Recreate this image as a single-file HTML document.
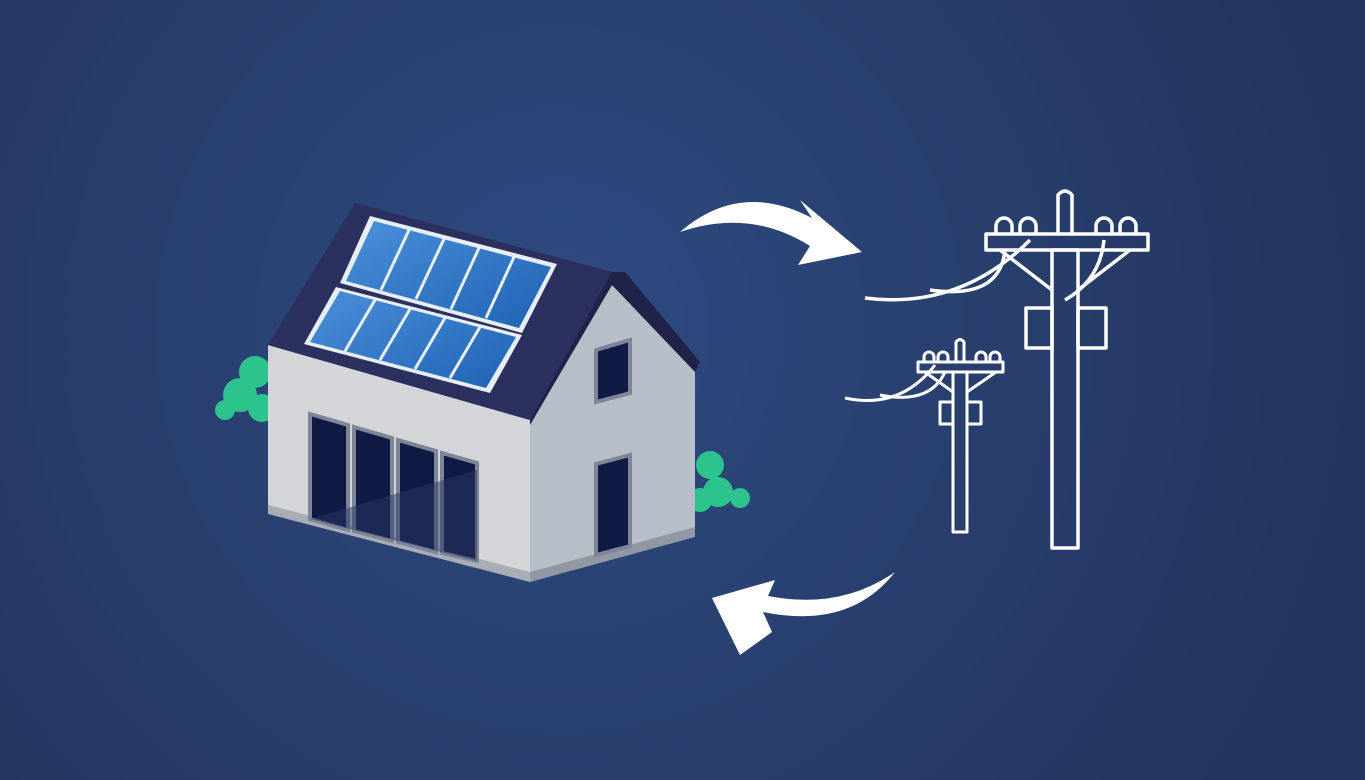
<!DOCTYPE html>
<html><head><meta charset="utf-8"><style>
html,body{margin:0;padding:0;width:1365px;height:780px;overflow:hidden;background:#253862}
</style></head><body>
<svg width="1365" height="780" viewBox="0 0 1365 780" xmlns="http://www.w3.org/2000/svg">
<defs>
<radialGradient id="bg" cx="560" cy="330" r="800" gradientUnits="userSpaceOnUse">
<stop offset="0" stop-color="#2f4b82"/><stop offset="0.6" stop-color="#273d6b"/><stop offset="1" stop-color="#22355d"/>
</radialGradient>
<linearGradient id="pv" x1="0" y1="0" x2="1" y2="1">
<stop offset="0" stop-color="#4a90d8"/><stop offset="1" stop-color="#1f63b5"/>
</linearGradient>
</defs>
<rect width="1365" height="780" fill="url(#bg)"/>
<!-- bushes -->
<g fill="#2cc48c">
<circle cx="255" cy="372" r="16"/><circle cx="240" cy="395" r="17"/><circle cx="225" cy="410" r="10"/><circle cx="262" cy="408" r="14"/>
<circle cx="710" cy="465" r="14"/><circle cx="718" cy="492" r="15"/><circle cx="740" cy="498" r="10"/><circle cx="700" cy="500" r="12"/>
</g>
<!-- house walls -->
<polygon points="268,345 530,420 530,580 268,512" fill="#d3d5d8"/>
<polygon points="268,505 530,572 530,582 268,514" fill="#a9aeb6"/>
<polygon points="530,420 612,285 695,370 695,535 530,580" fill="#b7bec8"/>
<polygon points="530,572 695,527 695,537 530,582" fill="#9198a3"/>
<!-- front windows -->
<g fill="#0f1a45" stroke="#7d8596" stroke-width="4">
<polygon points="310,414 348,425 348,530 310,519"/>
<polygon points="354,427 392,438 392,541 354,531"/>
<polygon points="398,440 436,451 436,552 398,542"/>
<polygon points="442,453 477,463 477,561 442,553"/>
<polygon points="596,350 630,340 630,393 596,402" fill="#0f1a45"/>
<polygon points="596,464 630,455 630,546 596,555"/>
</g>
<polygon points="310,519 477,470 477,561 310,519" fill="#2a3866" opacity="0.5"/>
<!-- roof -->
<polygon points="355,203 612,272 530,420 268,345" fill="#2b305e"/>
<polygon points="612,272 625,272 700,362 695,372 612,285 530,425 530,420" fill="#1f2349"/>
<!-- solar panels -->
<polygon points="370,216 557,264 522,333 340,283" fill="#e8eef6"/>
<polygon points="374,221 551,267 519,328 346,281" fill="url(#pv)"/>
<polygon points="336,287 522,335 490,393 304,344" fill="#e8eef6"/>
<polygon points="340,291 516,337 486,388 310,342" fill="url(#pv)"/>
<g stroke="#e8eef6" stroke-width="3">
<line x1="409" y1="230" x2="381" y2="290"/><line x1="444" y1="239" x2="416" y2="299"/><line x1="479" y1="248" x2="451" y2="309"/><line x1="514" y1="257" x2="486" y2="318"/>
<line x1="375" y1="300" x2="345" y2="351"/><line x1="410" y1="309" x2="380" y2="360"/><line x1="445" y1="318" x2="415" y2="369"/><line x1="480" y1="327" x2="450" y2="378"/>
</g>
<!-- arrows -->
<path d="M680,232 Q740,180 812,218 L800,200 L862,252 L798,265 L810,246 Q750,208 680,232 Z" fill="#fff"/>
<path d="M895,572 Q850,630 763,612 L772,632 L740,655 L712,598 L775,580 L768,596 Q840,610 895,572 Z" fill="#fff"/>
<!-- big pole -->
<g fill="none" stroke="#fff" stroke-width="3.5" stroke-linejoin="round">
<rect x="1052" y="250" width="26" height="298"/>
<rect x="986" y="234" width="162" height="16"/>
<path d="M1058,234 V195 Q1065,187 1072,195 V234"/>
<path d="M996,234 v-8 a8,8 0 0 1 16,0 v8 M1020,234 v-8 a8,8 0 0 1 16,0 v8 M1096,234 v-8 a8,8 0 0 1 16,0 v8 M1120,234 v-8 a8,8 0 0 1 16,0 v8"/>
<path d="M1000,250 L1052,290 M1130,250 L1078,290"/>
<rect x="1026" y="308" width="26" height="40"/><rect x="1078" y="308" width="28" height="40"/>
<path d="M865,298 Q960,310 1030,240 M930,290 Q1000,300 1005,250 M1065,300 Q1100,280 1104,240"/>
</g>
<!-- small pole -->
<g fill="none" stroke="#fff" stroke-width="3" stroke-linejoin="round">
<rect x="953" y="372" width="14" height="160"/>
<rect x="918" y="362" width="85" height="10"/>
<path d="M956,362 V342 Q960,337 964,342 V362"/>
<path d="M924,362 v-5 a5,5 0 0 1 10,0 v5 M938,362 v-5 a5,5 0 0 1 10,0 v5 M976,362 v-5 a5,5 0 0 1 10,0 v5 M990,362 v-5 a5,5 0 0 1 10,0 v5"/>
<path d="M925,372 L953,392 M996,372 L967,392"/>
<rect x="940" y="402" width="13" height="22"/><rect x="967" y="402" width="14" height="22"/>
<path d="M845,398 Q900,410 935,365 M880,395 Q930,405 945,372"/>
</g>
</svg>
</body></html>
